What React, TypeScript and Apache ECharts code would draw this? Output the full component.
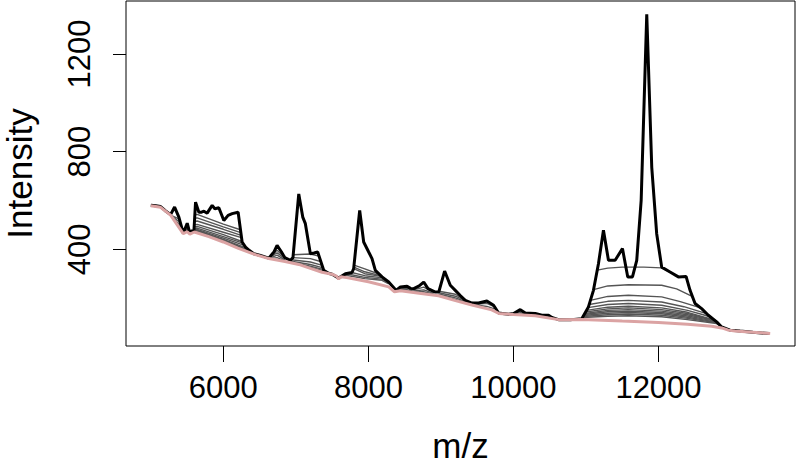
import React, { useEffect, useRef } from "react";
import * as echarts from "echarts";

type Pt = [number, number];

const X_TICKS = [6000, 8000, 10000, 12000];
const Y_TICKS = [400, 800, 1200];
const X_TITLE = "m/z";
const Y_TITLE = "Intensity";

// raw spectrum (black)
const SPECTRUM: Pt[] = [
  [5000, 580], [5070, 578], [5135, 575], [5200, 558], [5273, 542], [5328, 573], [5387, 532],
  [5447, 466], [5502, 507], [5538, 466], [5570, 477], [5594, 472], [5617, 593], [5663, 552],
  [5700, 552], [5732, 556], [5777, 548], [5846, 580], [5883, 566], [5938, 570], [6007, 518],
  [6066, 539], [6122, 546], [6204, 552], [6259, 430], [6306, 409], [6360, 395], [6420, 382],
  [6500, 376], [6627, 364], [6700, 390], [6741, 416], [6800, 390], [6847, 366], [6925, 355],
  [6960, 366], [7040, 627], [7095, 532], [7131, 505], [7200, 382], [7250, 385], [7301, 389],
  [7384, 314], [7450, 302], [7500, 298], [7590, 282], [7683, 300], [7774, 305], [7797, 321],
  [7880, 559], [7935, 430], [8004, 389], [8050, 362], [8096, 314], [8188, 287], [8280, 266],
  [8381, 232], [8442, 246], [8533, 249], [8580, 240], [8625, 239], [8700, 250], [8763, 266],
  [8822, 239], [8924, 225], [8970, 225], [9051, 311], [9129, 253], [9198, 232], [9270, 210],
  [9336, 191], [9428, 180], [9519, 180], [9634, 188], [9726, 171], [9795, 139], [9933, 134],
  [10002, 137], [10094, 153], [10163, 139], [10301, 137], [10392, 130], [10484, 130],
  [10530, 121], [10622, 112], [10800, 112], [10942, 116], [11034, 164], [11103, 232],
  [11172, 341], [11241, 478], [11310, 355], [11402, 355], [11503, 403], [11576, 287],
  [11641, 287], [11700, 355], [11761, 600], [11838, 1363], [11907, 736], [11975, 464],
  [12044, 327], [12159, 307], [12274, 287], [12380, 289], [12435, 232], [12504, 178],
  [12595, 157], [12687, 130], [12802, 103], [12871, 82], [12986, 69], [13124, 65],
  [13300, 60], [13523, 55],
];

// final baseline estimate (pink)
const BASELINE: Pt[] = [
  [5000, 578], [5135, 572], [5273, 540], [5447, 464], [5502, 472], [5538, 462], [5600, 471],
  [5800, 452], [6000, 430], [6200, 405], [6442, 378], [6627, 362], [6850, 350], [7040, 338],
  [7200, 322], [7361, 306], [7499, 298], [7560, 290], [7590, 278], [7620, 288], [7700, 284],
  [8000, 267], [8280, 246], [8360, 226], [8442, 230], [8700, 220], [8968, 210], [9200, 190],
  [9428, 172], [9700, 152], [9800, 137], [10000, 133], [10300, 128], [10622, 112],
  [10942, 113], [11500, 106], [12000, 100], [12400, 93], [12733, 85], [12871, 78],
  [12963, 69], [13054, 65], [13300, 60], [13540, 55],
];

// intermediate baseline iterations (grey), per peak region
const GRAY_5300: Pt[][] = [
  [[5273, 540], [5387, 525], [5430, 482]],
  [[5273, 540], [5387, 514], [5436, 475]],
  [[5273, 540], [5387, 503], [5441, 469]],
  [[5273, 540], [5387, 495], [5445, 466]],
];
const GRAY_5500: Pt[][] = [
  [[5447, 465], [5502, 492], [5538, 465]],
  [[5447, 465], [5502, 482], [5538, 464]],
];
const GRAY_5900: Pt[][] = [
  [[5607, 540], [5639, 543], [6000, 503], [6236, 480]],
  [[5605, 527], [5639, 529], [6000, 492], [6241, 468]],
  [[5602, 514], [5639, 516], [6000, 482], [6246, 457]],
  [[5599, 500], [5639, 502], [6000, 470], [6250, 448]],
  [[5597, 492], [5639, 494], [6000, 460], [6258, 432]],
  [[5596, 486], [5639, 487], [6000, 452], [6270, 425]],
  [[5595, 482], [5639, 482], [6000, 446], [6290, 416]],
  [[5595, 479], [5639, 478], [6000, 441], [6321, 405]],
  [[5594, 477], [5639, 475], [6000, 437], [6352, 397]],
  [[5594, 475], [5639, 473], [6000, 435], [6383, 390]],
  [[5594, 474], [5639, 471], [6000, 433], [6406, 385]],
  [[5594, 473], [5639, 470], [6000, 432], [6420, 382]],
];
const GRAY_6740: Pt[][] = [
  [[6627, 364], [6741, 396], [6847, 366]],
  [[6627, 363], [6741, 386], [6847, 362]],
  [[6627, 362], [6741, 376], [6847, 357]],
  [[6627, 362], [6741, 366], [6847, 353]],
];
const GRAY_7100: Pt[][] = [
  [[6964, 378], [7200, 381], [7318, 372]],
  [[6960, 366], [7200, 362], [7340, 350]],
  [[6935, 357], [7200, 348], [7355, 335]],
  [[6920, 352], [7200, 338], [7365, 325]],
  [[6900, 350], [7200, 331], [7372, 318]],
  [[6880, 349], [7200, 327], [7378, 313]],
];
const GRAY_7900: Pt[][] = [
  [[7802, 335], [7950, 320], [8142, 299]],
  [[7800, 327], [7950, 308], [8165, 292]],
  [[7797, 321], [7950, 300], [8180, 289]],
  [[7770, 305], [7950, 292], [8200, 283], [8280, 264]],
  [[7700, 300], [7950, 285], [8188, 278], [8280, 262]],
  [[7650, 296], [7950, 280], [8188, 273], [8280, 258]],
];
const GRAY_8600: Pt[][] = [
  [[8381, 231], [8442, 240], [8533, 241], [8625, 234], [8763, 245], [8840, 233], [8924, 222]],
  [[8381, 230], [8442, 236], [8533, 235], [8625, 229], [8763, 234], [8900, 220]],
  [[8381, 229], [8442, 233], [8533, 229], [8625, 225], [8763, 226], [8900, 216]],
];
const GRAY_9100: Pt[][] = [
  [[8975, 228], [9200, 216], [9330, 192]],
  [[8972, 222], [9200, 208], [9380, 184]],
  [[8970, 217], [9200, 201], [9428, 177], [9519, 176], [9634, 179], [9726, 166]],
  [[8965, 213], [9200, 195], [9428, 174], [9634, 166], [9740, 156]],
];
const GRAY_10100: Pt[][] = [
  [[10002, 136], [10094, 146], [10163, 137]],
  [[10002, 135], [10094, 140], [10163, 135]],
];
const GRAY_11800: Pt[][] = [
  [[11156, 315], [11300, 323], [11500, 327], [11800, 327], [12044, 324], [12159, 307], [12274, 287], [12380, 289], [12435, 232], [12504, 178], [12595, 157], [12687, 130], [12802, 103], [12871, 82], [12986, 69]],
  [[11105, 235], [11300, 250], [11585, 255], [12044, 253], [12250, 238], [12457, 208], [12504, 178], [12595, 157], [12687, 130], [12802, 103], [12871, 82], [12986, 69]],
  [[11061, 191], [11300, 207], [11585, 212], [12044, 205], [12300, 186], [12526, 165], [12595, 157], [12687, 130], [12802, 103], [12871, 82], [12986, 69]],
  [[11044, 174], [11300, 187], [11585, 191], [12044, 184], [12350, 165], [12595, 143], [12660, 137], [12687, 130], [12802, 103], [12871, 82], [12986, 69]],
  [[11028, 161], [11300, 174], [11585, 178], [12044, 171], [12400, 150], [12641, 130], [12720, 121], [12802, 103], [12871, 82], [12986, 69]],
  [[11007, 150], [11300, 163], [11585, 167], [12044, 160], [12400, 142], [12680, 118], [12760, 111], [12802, 103], [12871, 82], [12986, 69]],
  [[10994, 143], [11300, 156], [11585, 160], [12044, 153], [12400, 137], [12700, 115], [12790, 105], [12871, 82], [12986, 69]],
  [[10982, 137], [11300, 150], [11585, 153], [12044, 147], [12400, 132], [12720, 112], [12802, 103], [12871, 82], [12986, 69]],
  [[10975, 133], [11300, 144], [11585, 147], [12044, 141], [12400, 127], [12740, 108], [12810, 100], [12871, 82], [12986, 69]],
  [[10967, 129], [11300, 138], [11585, 141], [12044, 136], [12400, 122], [12760, 104], [12820, 97], [12871, 82], [12986, 69]],
  [[10959, 125], [11300, 132], [11585, 135], [12044, 130], [12400, 117], [12780, 100], [12835, 93], [12871, 82], [12986, 69]],
  [[10952, 121], [11300, 126], [11585, 128], [12044, 124], [12400, 112], [12800, 96], [12850, 88], [12871, 82], [12986, 69]],
];

const GRAY_REGIONS: Pt[][][] = [
  GRAY_5300, GRAY_5500, GRAY_5900, GRAY_6740, GRAY_7100, GRAY_7900,
  GRAY_8600, GRAY_9100, GRAY_10100, GRAY_11800,
];

const FONT = "'Liberation Sans', Arial, Helvetica, sans-serif";

export default function App() {
  const ref = useRef<HTMLDivElement>(null);
  useEffect(() => {
    const chart = echarts.init(ref.current!, null, { renderer: "svg" });
    const graySeries = GRAY_REGIONS.flat().map((seg) => ({
      type: "line",
      data: seg,
      symbol: "none",
      silent: true,
      z: 2,
      lineStyle: { color: "#555555", width: 1.4 },
    }));
    chart.setOption({
      animation: false,
      backgroundColor: "#ffffff",
      grid: {
        left: 126,
        right: 1,
        top: 1,
        bottom: 122,
        outerBoundsMode: "none",
        containLabel: false,
        show: true,
        borderColor: "#000000",
        borderWidth: 1,
        backgroundColor: "transparent",
      },
      xAxis: {
        type: "value",
        min: 4658,
        max: 13882,
        name: X_TITLE,
        nameLocation: "middle",
        nameGap: 82,
        nameTextStyle: { fontSize: 35, color: "#000", fontFamily: FONT },
        axisLine: { show: false },
        splitLine: { show: false },
        axisTick: {
          show: true,
          length: 16,
          customValues: X_TICKS,
          lineStyle: { color: "#000", width: 1 },
        },
        axisLabel: {
          customValues: X_TICKS,
          formatter: (v: number) => String(v),
          fontSize: 31,
          color: "#000",
          fontFamily: FONT,
          margin: 26,
        },
      },
      yAxis: {
        type: "value",
        min: 4,
        max: 1417,
        name: Y_TITLE,
        nameLocation: "middle",
        nameGap: 89,
        nameRotate: 90,
        nameTextStyle: { fontSize: 35, color: "#000", fontFamily: FONT },
        axisLine: { show: false },
        splitLine: { show: false },
        axisTick: {
          show: true,
          length: 13,
          customValues: Y_TICKS,
          lineStyle: { color: "#000", width: 1 },
        },
        axisLabel: {
          customValues: Y_TICKS,
          formatter: (v: number) => String(v),
          rotate: 90,
          fontSize: 31,
          color: "#000",
          fontFamily: FONT,
          margin: 31,
        },
      },
      series: [
        ...graySeries,
        {
          type: "line",
          data: SPECTRUM,
          symbol: "none",
          silent: true,
          z: 3,
          lineStyle: { color: "#000000", width: 3 },
        },
        {
          type: "line",
          data: BASELINE,
          symbol: "none",
          silent: true,
          z: 4,
          lineStyle: { color: "#DBA3A3", width: 3 },
        },
      ],
    });
    return () => chart.dispose();
  }, []);
  return (
    <div
      ref={ref}
      style={{ position: "fixed", left: 0, top: 0, width: 796, height: 468 }}
    />
  );
}
